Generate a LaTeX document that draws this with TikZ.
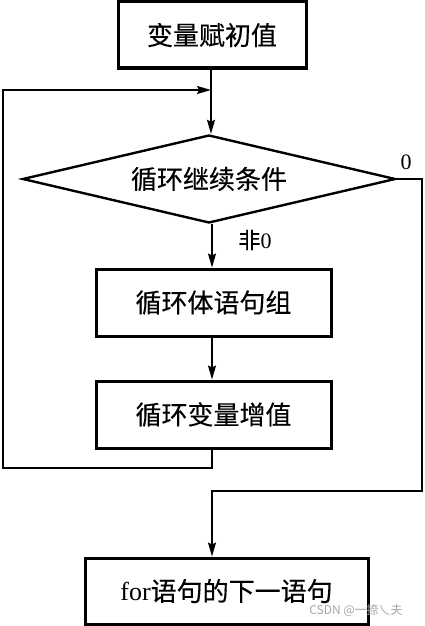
\documentclass[tikz,border=0pt]{standalone}
\usepackage{fontspec}
\setmainfont{Liberation Serif}
\newfontfamily\cjk{Noto Sans CJK SC}
\newfontfamily\cjkb{Noto Sans CJK SC}[FakeBold=0.3]
\usetikzlibrary{shapes.geometric,arrows.meta}
\tikzset{
  procbox/.style={draw=black,line width=3pt,rectangle,inner sep=0pt,
    font=\cjkb\fontsize{26}{30}\selectfont},
  decis/.style={draw=black,line width=2.4pt,diamond,aspect=4.24,inner sep=0pt,
    font=\cjkb\fontsize{26}{30}\selectfont},
  conn/.style={draw=black,line width=1.6pt},
  arr/.style={conn,-{Stealth[length=14pt,width=8pt,inset=2pt]}},
  lab/.style={inner sep=0pt,font=\fontsize{22}{26}\selectfont}
}
\begin{document}
\begin{tikzpicture}[x=1pt,y=1pt]
\useasboundingbox (0,0) rectangle (425,-626);
\node[procbox,minimum width=188,minimum height=66] (init) at (212,-35) {变量赋初值};
\node[decis,minimum width=373,minimum height=88] (cond) at (209,-179) {循环继续条件};
\node[procbox,minimum width=235,minimum height=67] (body) at (213.5,-302.5) {循环体语句组};
\node[procbox,minimum width=235,minimum height=67] (incr) at (213.5,-414.5) {循环变量增值};
\node[procbox,minimum width=283,minimum height=66] (next) at (226.5,-591) {{\rmfamily for}语句的下一语句};

\coordinate (join) at (211,-90);
\coordinate (lb) at (3,-468);
\coordinate (lt) at (3,-90);
\coordinate (rt) at (422,-179);
\coordinate (rb) at (422,-491);
\coordinate (mb) at (212,-491);

\draw[arr] (init.south -| join) -- (cond.north -| join);
\draw[arr] (cond.south -| 212,0) -- (body.north -| 212,0);
\draw[arr] (body.south -| 212,0) -- (incr.north -| 212,0);
\draw[arr] (incr.south -| 212,0) |- (lb) -- (lt) -- (join);
\draw[arr] (cond.east) -- (rt) -- (rb) -- (mb) -- (next.north -| mb);

\node[lab] (zero) at (406,-162) {0};
\node[lab] (nz) at (255,-240) {{\cjkb 非}0};
\node[inner sep=0pt,text=black!35,font=\cjk\fontsize{12}{14}\selectfont] (wm) at (356,-610) {CSDN @一捺乀夫};
\end{tikzpicture}
\end{document}
